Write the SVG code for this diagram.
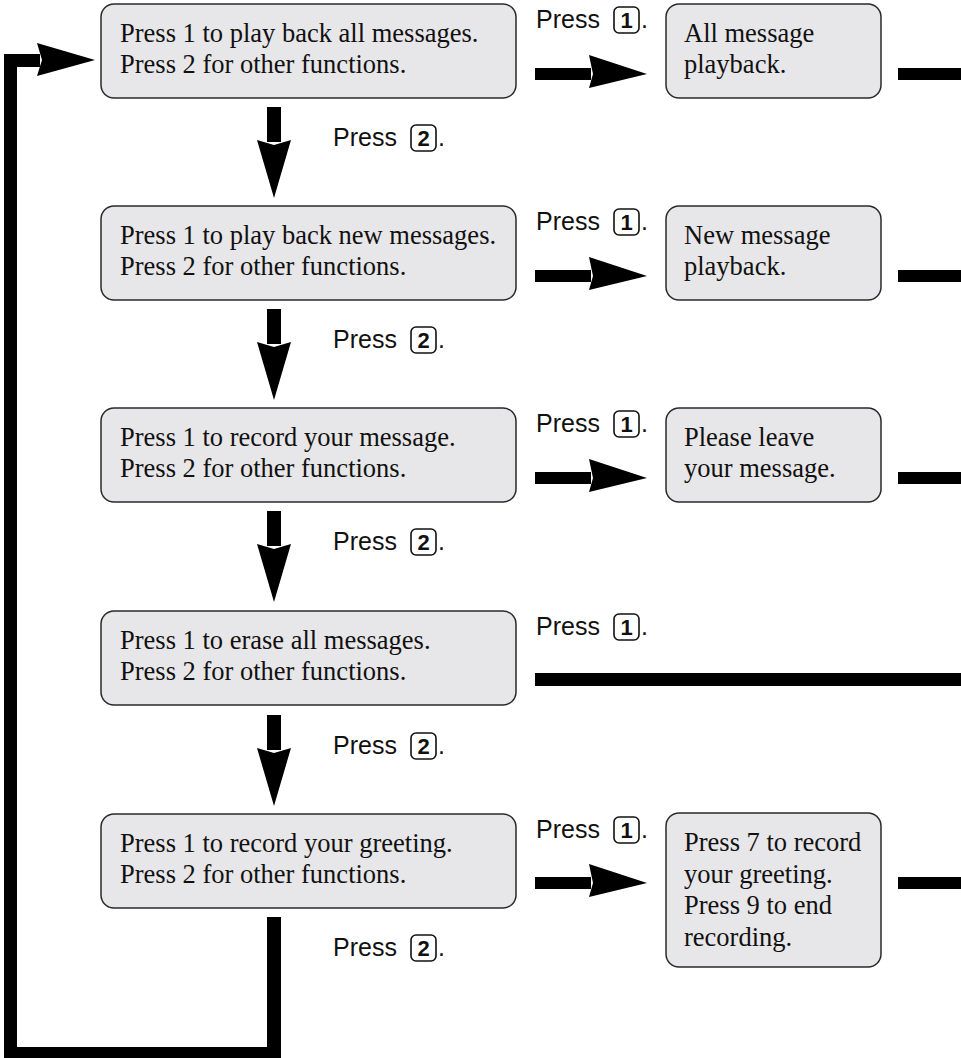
<svg xmlns="http://www.w3.org/2000/svg" width="961" height="1058" viewBox="0 0 961 1058">
<defs>
<style>
.box{fill:#e7e6e8;stroke:#2a2a2a;stroke-width:1.5}
.t{font-family:"Liberation Serif","Times New Roman",serif;font-size:26.5px;fill:#111}
.l{font-family:"Liberation Sans",Arial,sans-serif;font-size:25px;fill:#111}
.k{font-family:"Liberation Sans",Arial,sans-serif;font-size:22px;font-weight:bold;fill:#111;text-anchor:middle}
.kb{fill:none;stroke:#111;stroke-width:1.6}
.c{fill:#000}
</style>
<g id="rarrow"><rect x="0" y="-6" width="56" height="12"/><polygon points="54,-19 112,0 54,14 58,0"/></g>
<g id="darrow"><rect x="-7" y="0" width="14" height="35"/><polygon points="-17,33 0,38 17,33 0,91"/></g>
</defs>
<rect width="961" height="1058" fill="#fff"/>

<g id="connectors" class="c">
  <use href="#rarrow" x="535" y="74"/>
  <use href="#rarrow" x="535" y="276"/>
  <use href="#rarrow" x="535" y="478"/>
  <rect x="535" y="673" width="426" height="13"/>
  <use href="#rarrow" x="535" y="883"/>
  <rect x="898" y="68" width="63" height="12"/>
  <rect x="898" y="270" width="63" height="12"/>
  <rect x="898" y="472" width="63" height="12"/>
  <rect x="898" y="877" width="63" height="12"/>
  <use href="#darrow" x="274" y="107"/>
  <use href="#darrow" x="274" y="309"/>
  <use href="#darrow" x="274" y="511"/>
  <use href="#darrow" x="274" y="715"/>
  <path d="M267,917 H281 V1058 H4 V54 H40 V67 H17 V1047 H267 Z"/>
  <polygon points="37,43 95,60 37,76 42,60"/>
</g>

<g id="node1"><rect class="box" x="101" y="4" width="415" height="94" rx="13"/>
<text class="t" x="120" y="42">Press 1 to play back all messages.</text>
<text class="t" x="120" y="73">Press 2 for other functions.</text></g>
<g id="node2"><rect class="box" x="101" y="206" width="415" height="94" rx="13"/>
<text class="t" x="120" y="244">Press 1 to play back new messages.</text>
<text class="t" x="120" y="275">Press 2 for other functions.</text></g>
<g id="node3"><rect class="box" x="101" y="408" width="415" height="94" rx="13"/>
<text class="t" x="120" y="446">Press 1 to record your message.</text>
<text class="t" x="120" y="477">Press 2 for other functions.</text></g>
<g id="node4"><rect class="box" x="101" y="611" width="415" height="94" rx="13"/>
<text class="t" x="120" y="649">Press 1 to erase all messages.</text>
<text class="t" x="120" y="680">Press 2 for other functions.</text></g>
<g id="node5"><rect class="box" x="101" y="814" width="415" height="94" rx="13"/>
<text class="t" x="120" y="852">Press 1 to record your greeting.</text>
<text class="t" x="120" y="883">Press 2 for other functions.</text></g>

<g id="res1"><rect class="box" x="666" y="4" width="215" height="94" rx="13"/>
<text class="t" x="684" y="42">All message</text>
<text class="t" x="684" y="73">playback.</text></g>
<g id="res2"><rect class="box" x="666" y="206" width="215" height="94" rx="13"/>
<text class="t" x="684" y="244">New message</text>
<text class="t" x="684" y="275">playback.</text></g>
<g id="res3"><rect class="box" x="666" y="408" width="215" height="94" rx="13"/>
<text class="t" x="684" y="446">Please leave</text>
<text class="t" x="684" y="477">your message.</text></g>
<g id="res5"><rect class="box" x="666" y="813" width="215" height="154" rx="13"/>
<text class="t" x="684" y="851">Press 7 to record</text>
<text class="t" x="684" y="883">your greeting.</text>
<text class="t" x="684" y="914">Press 9 to end</text>
<text class="t" x="684" y="946">recording.</text></g>

<g id="labels">
  <g id="p1a"><text class="l" x="536" y="28">Press</text><rect class="kb" x="614" y="7" width="25" height="26" rx="5"/><text class="k" x="626.5" y="28">1</text><text class="l" x="641" y="28">.</text></g>
  <g id="p1b"><text class="l" x="536" y="230">Press</text><rect class="kb" x="614" y="209" width="25" height="26" rx="5"/><text class="k" x="626.5" y="230">1</text><text class="l" x="641" y="230">.</text></g>
  <g id="p1c"><text class="l" x="536" y="432">Press</text><rect class="kb" x="614" y="411" width="25" height="26" rx="5"/><text class="k" x="626.5" y="432">1</text><text class="l" x="641" y="432">.</text></g>
  <g id="p1d"><text class="l" x="536" y="635">Press</text><rect class="kb" x="614" y="614" width="25" height="26" rx="5"/><text class="k" x="626.5" y="635">1</text><text class="l" x="641" y="635">.</text></g>
  <g id="p1e"><text class="l" x="536" y="838">Press</text><rect class="kb" x="614" y="817" width="25" height="26" rx="5"/><text class="k" x="626.5" y="838">1</text><text class="l" x="641" y="838">.</text></g>
  <g id="p2a"><text class="l" x="333" y="146">Press</text><rect class="kb" x="411" y="125" width="25" height="26" rx="5"/><text class="k" x="423.5" y="146">2</text><text class="l" x="438" y="146">.</text></g>
  <g id="p2b"><text class="l" x="333" y="348">Press</text><rect class="kb" x="411" y="327" width="25" height="26" rx="5"/><text class="k" x="423.5" y="348">2</text><text class="l" x="438" y="348">.</text></g>
  <g id="p2c"><text class="l" x="333" y="550">Press</text><rect class="kb" x="411" y="529" width="25" height="26" rx="5"/><text class="k" x="423.5" y="550">2</text><text class="l" x="438" y="550">.</text></g>
  <g id="p2d"><text class="l" x="333" y="754">Press</text><rect class="kb" x="411" y="733" width="25" height="26" rx="5"/><text class="k" x="423.5" y="754">2</text><text class="l" x="438" y="754">.</text></g>
  <g id="p2e"><text class="l" x="333" y="956">Press</text><rect class="kb" x="411" y="935" width="25" height="26" rx="5"/><text class="k" x="423.5" y="956">2</text><text class="l" x="438" y="956">.</text></g>
</g>
</svg>
